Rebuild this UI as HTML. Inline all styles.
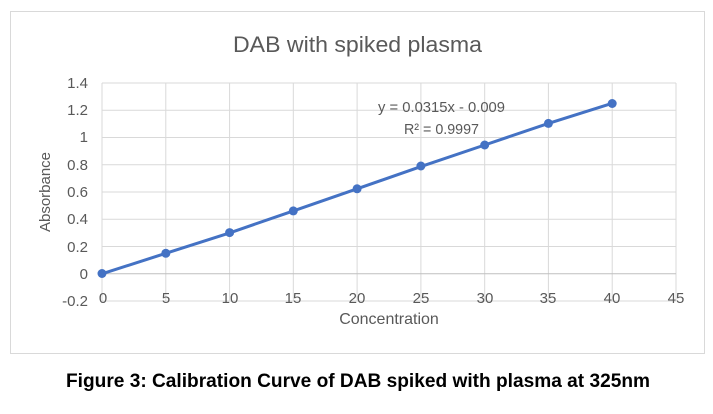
<!DOCTYPE html>
<html><head><style>
body{margin:0;background:#fff;width:713px;height:409px;overflow:hidden}
</style></head><body>
<svg width="713" height="409" xmlns="http://www.w3.org/2000/svg" font-family="'Liberation Sans Narrow','Liberation Sans',sans-serif">
<rect x="10.5" y="11.5" width="694" height="342" fill="#fff" stroke="#d9d9d9"/>
<text x="233" y="52" font-size="22" fill="#595959" textLength="249" lengthAdjust="spacingAndGlyphs">DAB with spiked plasma</text>
<g stroke="#d9d9d9" stroke-width="1">
<line x1="102" y1="83" x2="676" y2="83"/><line x1="102" y1="110.3" x2="676" y2="110.3"/>
<line x1="102" y1="137.5" x2="676" y2="137.5"/><line x1="102" y1="164.8" x2="676" y2="164.8"/>
<line x1="102" y1="192" x2="676" y2="192"/><line x1="102" y1="219.3" x2="676" y2="219.3"/>
<line x1="102" y1="246.5" x2="676" y2="246.5"/><line x1="102" y1="301" x2="676" y2="301"/>
<line x1="102" y1="83" x2="102" y2="301"/><line x1="165.8" y1="83" x2="165.8" y2="301"/>
<line x1="229.6" y1="83" x2="229.6" y2="301"/><line x1="293.3" y1="83" x2="293.3" y2="301"/>
<line x1="357.1" y1="83" x2="357.1" y2="301"/><line x1="420.9" y1="83" x2="420.9" y2="301"/>
<line x1="484.7" y1="83" x2="484.7" y2="301"/><line x1="548.4" y1="83" x2="548.4" y2="301"/>
<line x1="612.2" y1="83" x2="612.2" y2="301"/><line x1="676" y1="83" x2="676" y2="301"/>
</g>
<line x1="102" y1="273.8" x2="676" y2="273.8" stroke="#bfbfbf"/>
<g font-size="15" fill="#595959" text-anchor="end">
<text x="88" y="88">1.4</text><text x="88" y="115">1.2</text><text x="88" y="142">1</text>
<text x="88" y="170">0.8</text><text x="88" y="197">0.6</text><text x="88" y="224">0.4</text>
<text x="88" y="252">0.2</text><text x="88" y="279">0</text><text x="88" y="306">-0.2</text>
</g>
<g font-size="15" fill="#595959" text-anchor="middle">
<text x="103" y="303">0</text><text x="166" y="303">5</text><text x="230" y="303">10</text>
<text x="293" y="303">15</text><text x="357" y="303">20</text><text x="421" y="303">25</text>
<text x="485" y="303">30</text><text x="548" y="303">35</text><text x="612" y="303">40</text><text x="676" y="303">45</text>
</g>
<text x="389" y="324" font-size="16" fill="#595959" text-anchor="middle">Concentration</text>
<text transform="translate(50,192) rotate(-90)" font-size="15" fill="#595959" text-anchor="middle" font-family="'Liberation Sans',sans-serif">Absorbance</text>
<text x="378" y="112" font-size="15" fill="#595959" textLength="127" lengthAdjust="spacingAndGlyphs">y = 0.0315x - 0.009</text>
<text x="404" y="134" font-size="15" fill="#595959" textLength="75" lengthAdjust="spacingAndGlyphs">R² = 0.9997</text>
<polyline fill="none" stroke="#4472c4" stroke-width="3" points="102,273.8 165.8,253.3 229.6,232.9 293.3,210.9 357.1,188.8 420.9,166.6 484.7,145 548.4,123.4 612.2,103.3"/>
<g fill="#4472c4">
<circle cx="102" cy="273.5" r="4.5"/><circle cx="165.8" cy="253.3" r="4.5"/><circle cx="229.6" cy="232.6" r="4.5"/>
<circle cx="293.3" cy="210.9" r="4.5"/><circle cx="357.1" cy="188.8" r="4.5"/><circle cx="420.9" cy="166" r="4.5"/>
<circle cx="484.7" cy="145" r="4.5"/><circle cx="548.4" cy="123.4" r="4.5"/><circle cx="612.2" cy="103.5" r="4.5"/>
</g>
<text x="66" y="387" font-size="19" font-weight="bold" fill="#000" textLength="584" lengthAdjust="spacingAndGlyphs">Figure 3: Calibration Curve of DAB spiked with plasma at 325nm</text>
</svg>
</body></html>
